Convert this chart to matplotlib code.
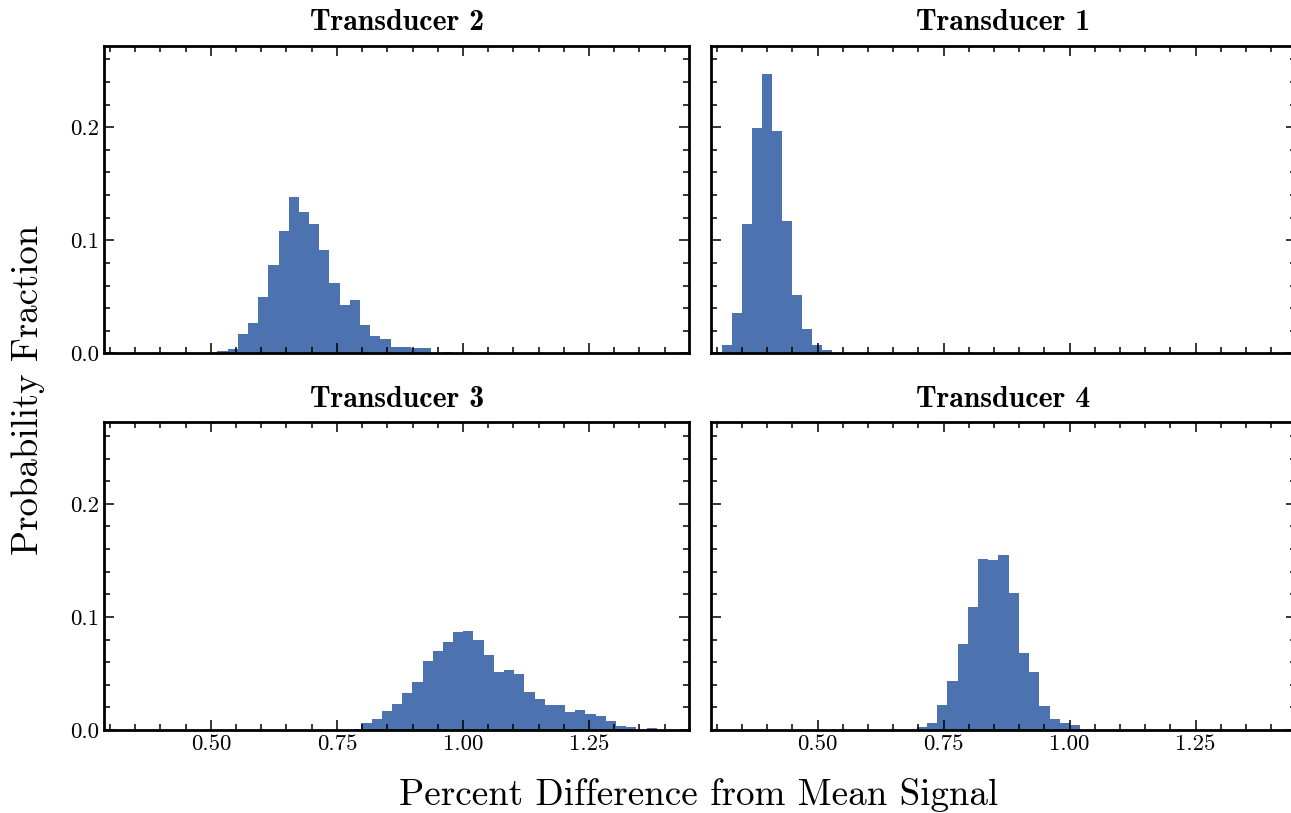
import numpy as np
import matplotlib.pyplot as plt
from matplotlib.ticker import MultipleLocator

plt.rcParams['font.family'] = 'cmr10'
plt.rcParams['mathtext.fontset'] = 'cm'
plt.rcParams['axes.formatter.use_mathtext'] = True

# histogram data (fraction per bin)
t1_start, t1_width = 0.3095, 0.0200
t1_heights = [0.0073, 0.0356, 0.1141, 0.1997, 0.2474, 0.1970, 0.1168,
              0.0515, 0.0215, 0.0073, 0.0029]

t2_start, t2_width = 0.5131, 0.0202
t2_heights = [0.0024, 0.0036, 0.0175, 0.0272, 0.0503, 0.0778, 0.1080,
              0.1380, 0.1248, 0.1145, 0.0911, 0.0627, 0.0432, 0.0476,
              0.0255, 0.0151, 0.0130, 0.0059, 0.0059, 0.0051, 0.0051,
              0.0, 0.0010, 0.0, 0.0010, 0.0, 0.0, 0.0, 0.0, 0.0008, 0.0008]

t3_start, t3_width = 0.7784, 0.0202
t3_heights = [0.0014, 0.0065, 0.0094, 0.0165, 0.0232, 0.0324, 0.0427,
              0.0612, 0.0700, 0.0780, 0.0868, 0.0877, 0.0798, 0.0668,
              0.0515, 0.0533, 0.0497, 0.0341, 0.0277, 0.0224, 0.0224,
              0.0162, 0.0180, 0.0144, 0.0126, 0.0082, 0.0038, 0.0029,
              0.0, 0.0020]

t4_start, t4_width = 0.6964, 0.0203
t4_heights = [0.0030, 0.0065, 0.0218, 0.0436, 0.0764, 0.1090, 0.1516,
              0.1507, 0.1550, 0.1215, 0.0684, 0.0516, 0.0209, 0.0100,
              0.0065, 0.0047]

titles = ['Transducer 2', 'Transducer 1', 'Transducer 3', 'Transducer 4']
panels = [(t2_start, t2_width, t2_heights), (t1_start, t1_width, t1_heights),
          (t3_start, t3_width, t3_heights), (t4_start, t4_width, t4_heights)]

W, H = 1291, 813
fig = plt.figure(figsize=(W / 100, H / 100), dpi=100)

# axes boxes in pixels: left, top, width, height
boxes = [(104, 45.7, 585.3, 307.8), (710.7, 45.7, 585.3, 307.8),
         (104, 422.3, 585.3, 307.8), (710.7, 422.3, 585.3, 307.8)]

color = '#4C72B0'
for i, ((l, t, w, h), title, (start, width, heights)) in enumerate(zip(boxes, titles, panels)):
    ax = fig.add_axes([l / W, 1 - (t + h) / H, w / W, h / H])
    edges = start + width * np.arange(len(heights) + 1)
    ax.hist(edges[:-1] + width / 2, bins=edges, weights=heights,
            color=color, edgecolor='none')
    ax.set_xlim(0.288, 1.449)
    ax.set_ylim(0, 0.272)
    ax.xaxis.set_major_locator(MultipleLocator(0.25))
    ax.xaxis.set_minor_locator(MultipleLocator(0.05))
    ax.yaxis.set_major_locator(MultipleLocator(0.1))
    ax.yaxis.set_minor_locator(MultipleLocator(0.02))
    ax.tick_params(which='both', direction='in', top=True, right=True,
                   labelsize=16.5, width=1.1)
    ax.tick_params(which='major', length=7.5)
    ax.tick_params(which='minor', length=4)
    for s in ax.spines.values():
        s.set_linewidth(2.0)
    ax.set_title(title, fontfamily='cmb10', fontsize=21.5, pad=11)
    ax.xaxis.set_major_formatter(plt.FuncFormatter(lambda v, p: f'{v:.2f}'))
    ax.yaxis.set_major_formatter(plt.FuncFormatter(lambda v, p: f'{v:.1f}'))
    if i < 2:
        ax.tick_params(labelbottom=False)
    if i % 2 == 1:
        ax.tick_params(labelleft=False)

fig.text(699 / W, 1 - 795 / H, 'Percent Difference from Mean Signal',
         ha='center', va='center', fontsize=26.7)
fig.text(28 / W, 1 - 390 / H, 'Probability Fraction', rotation=90,
         ha='center', va='center', fontsize=26.5)

fig.savefig('out.png', dpi=100)
